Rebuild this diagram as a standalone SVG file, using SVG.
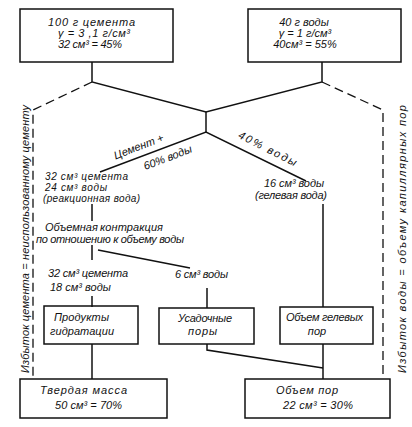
<svg xmlns="http://www.w3.org/2000/svg" width="412" height="427" viewBox="0 0 412 427">
<style>
text{font-family:"Liberation Sans",Arial,sans-serif;font-style:italic;font-size:11px;fill:#111}
.s{font-size:10px}
.c{text-anchor:middle}
.box{fill:none;stroke:#111;stroke-width:1.5}
.ln{fill:none;stroke:#111;stroke-width:1.5}
.dash{fill:none;stroke:#111;stroke-width:1.3;stroke-dasharray:9 5}
</style>
<rect width="412" height="427" fill="#fff"/>
<g id="connectors">
<polyline class="ln" points="92,62 92,82 206,112 322,82 322,62"/>
<polyline class="ln" points="206,112 206,132"/>
<polyline class="ln" points="100,172 206,132 306,181"/>
<polyline class="dash" points="92,82 33,110 33,379"/>
<polyline class="dash" points="322,82 383,110 383,379"/>
<line class="ln" x1="92" y1="204" x2="92" y2="221"/>
<line class="ln" x1="92" y1="245" x2="92" y2="260"/>
<line class="ln" x1="98" y1="250" x2="190" y2="268"/>
<line class="ln" x1="92" y1="296" x2="92" y2="307"/>
<line class="ln" x1="207" y1="288" x2="207" y2="308"/>
<line class="ln" x1="323" y1="204" x2="323" y2="307"/>
<line class="ln" x1="92" y1="344" x2="92" y2="379"/>
<polyline class="ln" points="207,344 207,350 323,368"/>
<line class="ln" x1="323" y1="344" x2="323" y2="379"/>
</g>
<g id="cement">
<rect class="box" x="20" y="9" width="153" height="53"/>
<text x="48" y="26" textLength="87" lengthAdjust="spacing">100 г  цемента</text>
<text x="58" y="37" textLength="72" lengthAdjust="spacing">γ = 3 ,1 г/см³</text>
<text x="58" y="48" textLength="64" lengthAdjust="spacing">32 см³ = 45%</text>
</g>
<g id="water">
<rect class="box" x="248" y="9" width="153" height="53"/>
<text class="c" x="304" y="26">40 г  воды</text>
<text class="c" x="305" y="37">γ = 1 г/см³</text>
<text class="c" x="305" y="48">40см³ = 55%</text>
</g>
<g id="split-labels">
<text class="c" transform="translate(140,150) rotate(-21)">Цемент +</text>
<text class="c" transform="translate(169,161) rotate(-21)">60% воды</text>
<text class="c" transform="translate(266,152) rotate(27)" textLength="64" lengthAdjust="spacing">40% воды</text>
</g>
<g id="reaction-water">
<text class="s" x="45" y="180" textLength="83" lengthAdjust="spacing">32 см³ цемента</text>
<text class="s" x="45" y="191" textLength="62" lengthAdjust="spacing">24 см³ воды</text>
<text class="s" x="43" y="202" textLength="97" lengthAdjust="spacing">(реакционная вода)</text>
</g>
<g id="gel-water">
<text x="264" y="187" textLength="60" lengthAdjust="spacing">16 см³ воды</text>
<text x="255" y="199" textLength="72" lengthAdjust="spacing">(гелевая вода)</text>
</g>
<g id="contraction">
<text x="45" y="231">Объемная</text>
<text x="100" y="231" textLength="63" lengthAdjust="spacing">контракция</text>
<text x="36" y="243" textLength="148" lengthAdjust="spacing">по отношению к объему воды</text>
</g>
<g id="remaining">
<text x="48" y="277" textLength="80" lengthAdjust="spacing">32 см³ цемента</text>
<text x="50" y="291">18 см³ воды</text>
</g>
<g id="shrink-water">
<text x="175" y="278" textLength="53" lengthAdjust="spacing">6 см³ воды</text>
</g>
<g id="hydration-products">
<rect class="box" x="44" y="306" width="94" height="38"/>
<text x="54" y="321" textLength="55" lengthAdjust="spacing">Продукты</text>
<text x="50" y="335" textLength="64" lengthAdjust="spacing">гидратации</text>
</g>
<g id="shrinkage-pores">
<rect class="box" x="159" y="308" width="95" height="36"/>
<text x="178" y="322" textLength="54" lengthAdjust="spacing">Усадочные</text>
<text x="188" y="335" textLength="29" lengthAdjust="spacing">поры</text>
</g>
<g id="gel-pores">
<rect class="box" x="280" y="307" width="93" height="37"/>
<text x="286" y="321" textLength="77" lengthAdjust="spacing">Объем гелевых</text>
<text class="c" x="317" y="335">пор</text>
</g>
<g id="solid-mass">
<rect class="box" x="20" y="379" width="147" height="39"/>
<text x="40" y="394" textLength="87" lengthAdjust="spacing">Твердая масса</text>
<text x="55" y="409" textLength="67" lengthAdjust="spacing">50 см³ = 70%</text>
</g>
<g id="pore-volume">
<rect class="box" x="245" y="379" width="145" height="39"/>
<text x="276" y="394" textLength="62" lengthAdjust="spacing">Объем пор</text>
<text x="283" y="409" textLength="70" lengthAdjust="spacing">22 см³ = 30%</text>
</g>
<g id="side-labels">
<text transform="translate(29,373) rotate(-90)" textLength="268" lengthAdjust="spacing">Избыток цемента = неиспользованному цементу</text>
<text transform="translate(406,373) rotate(-90)" textLength="268" lengthAdjust="spacing">Избыток воды = объему капиллярных пор</text>
</g>
</svg>
